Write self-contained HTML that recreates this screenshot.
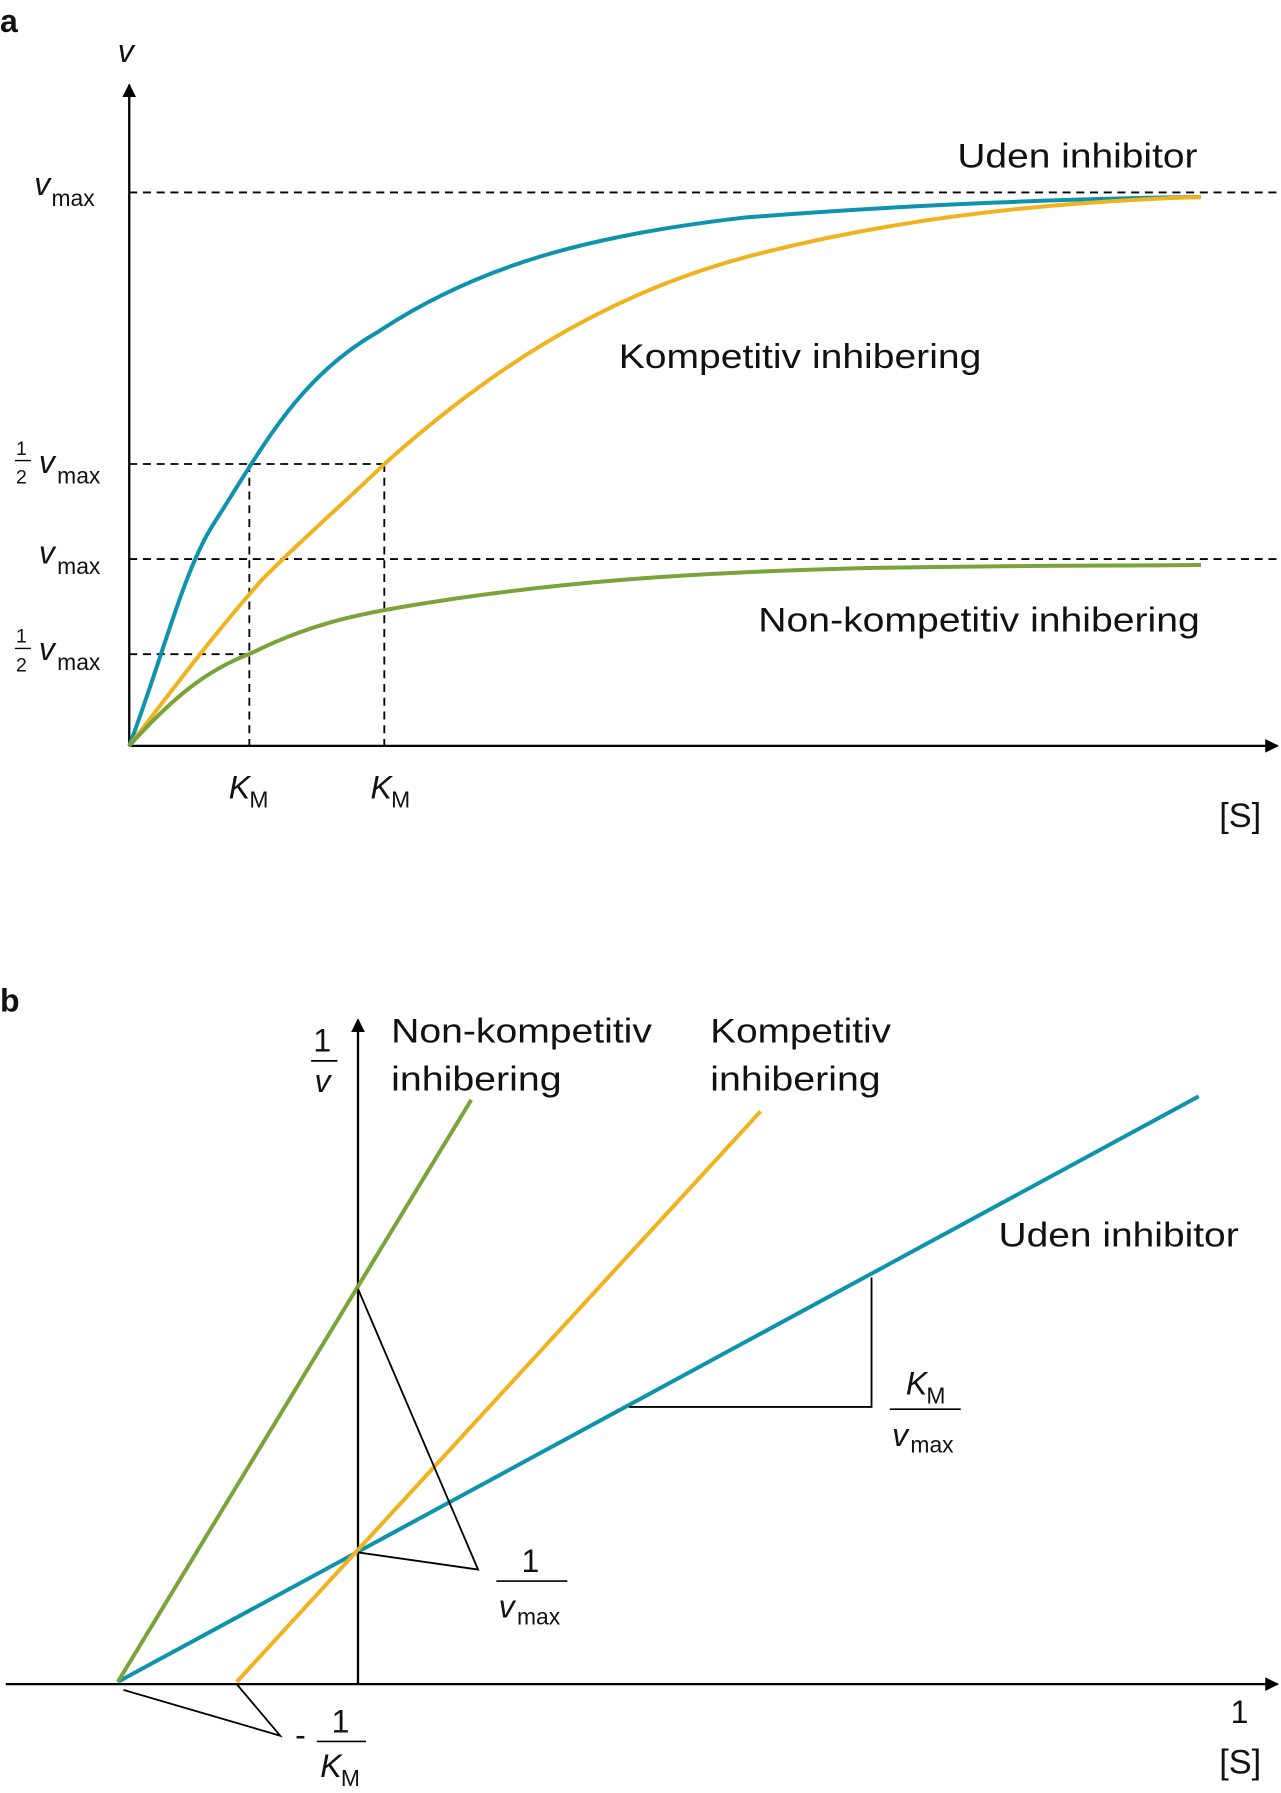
<!DOCTYPE html>
<html><head><meta charset="utf-8"><style>
html,body{margin:0;padding:0;background:#fff;}
svg{display:block;}
text{font-family:"Liberation Sans",sans-serif;fill:#111;}
.it{font-style:italic;}
</style></head><body>
<svg width="1281" height="1793" viewBox="0 0 1120 1565" preserveAspectRatio="none" xmlns="http://www.w3.org/2000/svg">
<defs><marker id="ar" viewBox="0 0 10 10" refX="9" refY="5" markerWidth="12" markerHeight="12" markerUnits="userSpaceOnUse" orient="auto"><path d="M0,0 L10,5 L0,10 z" fill="#000"/></marker></defs>
<!-- panel a -->
<text x="0" y="28" font-size="28" font-weight="bold">a</text>
<line x1="113" y1="651" x2="113" y2="74" stroke="#000" stroke-width="2" marker-end="url(#ar)"/>
<line x1="113" y1="651" x2="1117" y2="651" stroke="#000" stroke-width="2" marker-end="url(#ar)"/>
<g stroke="#000" stroke-width="1.6" stroke-dasharray="7,5" fill="none">
<line x1="113" y1="168" x2="1118" y2="168"/>
<line x1="113" y1="488" x2="1118" y2="488"/>
<line x1="113" y1="405" x2="336" y2="405"/>
<line x1="113" y1="571" x2="218" y2="571"/>
<line x1="218" y1="405" x2="218" y2="651"/>
<line x1="336" y1="405" x2="336" y2="651"/>
</g>
<path d="M113,651 C140,580 160,500 185,460 C230,390 260,330 330,290 C420,230 520,205 650,190 C800,178 950,173 1050,172" fill="none" stroke="#0e93ad" stroke-width="3.5"/>
<path d="M113,651 C160,590 190,550 230,505 C270,465 300,440 336,405 C420,330 520,260 650,225 C800,185 950,175 1050,172" fill="none" stroke="#f0b21e" stroke-width="3.5"/>
<path d="M113,651 C150,610 180,585 220,570 C270,545 310,537 350,530 C480,508 600,500 750,496 C900,493 1000,494 1050,493" fill="none" stroke="#7aa43a" stroke-width="3.5"/>
<text x="103" y="54" font-size="28" class="it">v</text>
<text x="30" y="170" font-size="28" class="it">v</text><text x="45" y="180" font-size="20">max</text>
<text x="14" y="397" font-size="17">1</text><line x1="13" y1="402" x2="27" y2="402" stroke="#000" stroke-width="1.2"/><text x="14" y="422" font-size="17">2</text>
<text x="34" y="413" font-size="28" class="it">v</text><text x="50" y="422" font-size="20">max</text>
<text x="34" y="492" font-size="28" class="it">v</text><text x="50" y="501" font-size="20">max</text>
<text x="14" y="561" font-size="17">1</text><line x1="13" y1="566" x2="27" y2="566" stroke="#000" stroke-width="1.2"/><text x="14" y="586" font-size="17">2</text>
<text x="34" y="576" font-size="28" class="it">v</text><text x="50" y="585" font-size="20">max</text>
<text x="200" y="697" font-size="28" class="it">K</text><text x="218" y="705" font-size="20">M</text>
<text x="324" y="697" font-size="28" class="it">K</text><text x="342" y="705" font-size="20">M</text>
<text x="1066" y="722" font-size="30">[S]</text>
<text x="837" y="146" font-size="30" textLength="210" lengthAdjust="spacingAndGlyphs">Uden inhibitor</text>
<text x="541" y="321" font-size="30" textLength="317" lengthAdjust="spacingAndGlyphs">Kompetitiv inhibering</text>
<text x="663" y="551" font-size="30" textLength="386" lengthAdjust="spacingAndGlyphs">Non-kompetitiv inhibering</text>
<!-- panel b -->
<text x="0" y="883" font-size="28" font-weight="bold">b</text>
<line x1="313" y1="1470" x2="313" y2="890" stroke="#000" stroke-width="2" marker-end="url(#ar)"/>
<line x1="5" y1="1470" x2="1117" y2="1470" stroke="#000" stroke-width="2" marker-end="url(#ar)"/>
<line x1="103" y1="1468" x2="1048" y2="957" stroke="#0e93ad" stroke-width="3.5"/>
<line x1="207" y1="1468" x2="665" y2="970" stroke="#f0b21e" stroke-width="3.5"/>
<line x1="103" y1="1468" x2="412" y2="960" stroke="#7aa43a" stroke-width="3.5"/>
<g stroke="#000" stroke-width="1.6" fill="none">
<polyline points="313,1125 418,1370 313,1355"/>
<polyline points="550,1228 762,1228 762,1115"/>
<polyline points="108,1475 245,1515 207,1470"/>
</g>
<text x="274" y="918" font-size="28">1</text><line x1="272" y1="926" x2="295" y2="926" stroke="#000" stroke-width="1.5"/><text x="275" y="953" font-size="28" class="it">v</text>
<text x="342" y="910" font-size="30" textLength="228" lengthAdjust="spacingAndGlyphs">Non-kompetitiv</text>
<text x="342" y="952" font-size="30" textLength="149" lengthAdjust="spacingAndGlyphs">inhibering</text>
<text x="621" y="910" font-size="30" textLength="158" lengthAdjust="spacingAndGlyphs">Kompetitiv</text>
<text x="621" y="952" font-size="30" textLength="149" lengthAdjust="spacingAndGlyphs">inhibering</text>
<text x="873" y="1088" font-size="30" textLength="210" lengthAdjust="spacingAndGlyphs">Uden inhibitor</text>
<text x="792" y="1217" font-size="28" class="it">K</text><text x="810" y="1225" font-size="20">M</text>
<line x1="778" y1="1230" x2="840" y2="1230" stroke="#000" stroke-width="1.5"/>
<text x="780" y="1262" font-size="28" class="it">v</text><text x="796" y="1268" font-size="20">max</text>
<text x="456" y="1372" font-size="28">1</text>
<line x1="434" y1="1380" x2="496" y2="1380" stroke="#000" stroke-width="1.5"/>
<text x="436" y="1412" font-size="28" class="it">v</text><text x="452" y="1418" font-size="20">max</text>
<text x="258" y="1524" font-size="28">-</text>
<text x="290" y="1512" font-size="28">1</text>
<line x1="277" y1="1520" x2="320" y2="1520" stroke="#000" stroke-width="1.5"/>
<text x="280" y="1551" font-size="28" class="it">K</text><text x="298" y="1559" font-size="20">M</text>
<text x="1076" y="1504" font-size="28">1</text>
<text x="1066" y="1548" font-size="30">[S]</text>
</svg>
</body></html>
